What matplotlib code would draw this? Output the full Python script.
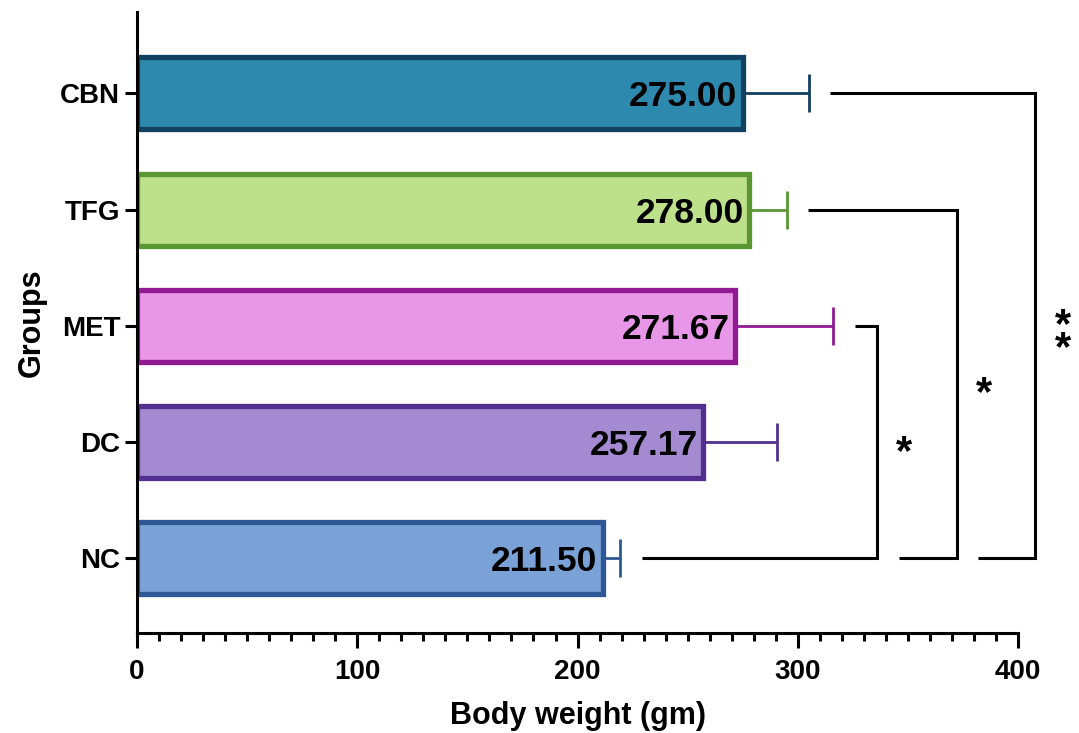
import matplotlib
matplotlib.use("Agg")
import matplotlib.pyplot as plt
from matplotlib.ticker import MultipleLocator

plt.rcParams['font.family'] = ['Liberation Sans', 'DejaVu Sans']
plt.rcParams['font.weight'] = 'bold'

groups = ["NC", "DC", "MET", "TFG", "CBN"]
means = [211.50, 257.17, 271.67, 278.00, 275.00]
errors = [7.8, 33.2, 44.4, 17.0, 30.0]
fill_colors = ["#7BA2D6", "#A48AD1", "#E896E8", "#BDE08A", "#2E89AE"]
edge_colors = ["#2E5895", "#53308F", "#911A92", "#5A9632", "#114060"]

# significance brackets: (group_a, group_b, x of vertical, start x at a, start x at b, label, label x, label y)
brackets = [
    (0, 2, 336.0, 229.3, 326.0, "*", 348.3, 0.90),
    (0, 3, 372.3, 346.0, 304.6, "*", 384.6, 1.41),
    (0, 4, 407.7, 381.8, 314.6, "*\n*", 420.4, 1.90),
]

fig = plt.figure(figsize=(10.79, 7.33), dpi=100)
ax = fig.add_axes([0.127, 0.1364, 0.8165, 0.8472])

ypos = list(range(len(groups)))
ax.barh(ypos, means, height=0.62, color=fill_colors, edgecolor=edge_colors,
        linewidth=3.8, zorder=2)
for y, m, e, ec in zip(ypos, means, errors, edge_colors):
    ax.errorbar(m, y, xerr=[[0], [e]], fmt='none', ecolor=ec, elinewidth=2.0,
                capsize=13.5, capthick=2.0, zorder=1)
    ax.annotate(f"{m:.2f}", xy=(m, y), xytext=(-4, 0), textcoords='offset points',
                ha='right', va='center_baseline', fontsize=25.5, fontweight='bold',
                color='black', zorder=3)

for a, b, xv, xa, xb, lab, lx, ly in brackets:
    ax.plot([xa, xv, xv, xb], [a, a, b, b], color='black', lw=2.2,
            clip_on=False, solid_joinstyle='miter', solid_capstyle='butt')
    ax.text(lx, ly, lab, ha='center', va='center', fontsize=30,
            fontweight='bold', linespacing=0.45, clip_on=False)

ax.set_xlim(0, 400)
ax.set_ylim(-0.645, 4.70)
ax.set_yticks(ypos)
ax.set_yticklabels(groups)
ax.xaxis.set_major_locator(MultipleLocator(100))
ax.xaxis.set_minor_locator(MultipleLocator(10))

for s in ['top', 'right']:
    ax.spines[s].set_visible(False)
for s in ['left', 'bottom']:
    ax.spines[s].set_linewidth(2.2)

ax.tick_params(axis='x', which='major', length=11, width=2.2, labelsize=20, pad=8)
ax.tick_params(axis='x', which='minor', length=6, width=2.2)
ax.tick_params(axis='y', which='major', length=9, width=2.2, labelsize=20, pad=3)
for lbl in ax.get_xticklabels() + ax.get_yticklabels():
    lbl.set_fontweight('bold')

ax.set_xlabel("Body weight (gm)", fontsize=22, fontweight='bold', labelpad=11)
ax.set_ylabel("Groups", fontsize=22, fontweight='bold', labelpad=10)

fig.savefig("out.png", dpi=100)
